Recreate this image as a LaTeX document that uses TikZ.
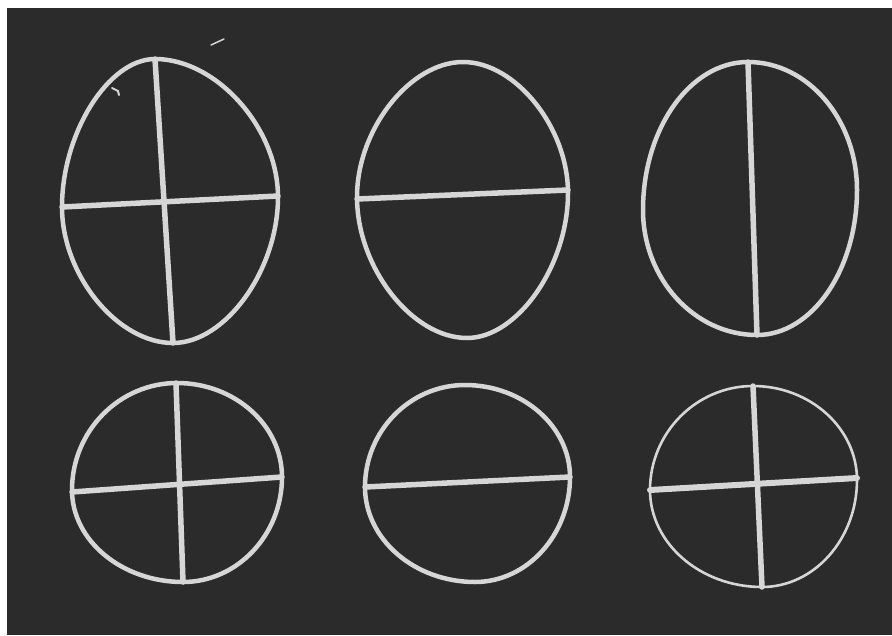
\documentclass[tikz,border=0pt]{standalone}
\usepackage{tikz}
\definecolor{board}{HTML}{2B2B2B}
\definecolor{chalkwhite}{HTML}{D6D6D6}
\tikzstyle{outline} = [draw=chalkwhite, line width=4.5pt, line join=round]
\tikzstyle{thinoutline} = [draw=chalkwhite, line width=2.6pt, line join=round]
\tikzstyle{axis} = [draw=chalkwhite, line width=5.5pt, line cap=round]
% oval through top, right, bottom and left points
\def\ovalk{0.55}
\newcommand{\chalkoval}[9]{%
  \draw[#1] (#2,#3) .. controls ({#2+\ovalk*(#4-#2)},#3) and (#4,{#5-\ovalk*(#5-#3)}) .. (#4,#5)
    .. controls (#4,{#5+\ovalk*(#7-#5)}) and ({#6+\ovalk*(#4-#6)},#7) .. (#6,#7)
    .. controls ({#6-\ovalk*(#6-#8)},#7) and (#8,{#9+\ovalk*(#7-#9)}) .. (#8,#9)
    .. controls (#8,{#9-\ovalk*(#9-#3)}) and ({#2-\ovalk*(#2-#8)},#3) .. cycle;}

\begin{document}
\begin{tikzpicture}[x=1pt, y=-1pt]
  \useasboundingbox (0,0) rectangle (892,635);
  \fill[white] (0,0) rectangle (892,635);
  \fill[board] (7,8) rectangle (892,635);
  % top row
  \def\ovalk{0.5}
  \chalkoval{outline}{155}{59}{278}{197}{173}{343}{62}{207}
  \draw[axis] (155,59) -- (173,343);
  \draw[axis] (62,207) -- (278,196);
  \chalkoval{outline}{463}{62}{568}{193}{467}{338}{357}{197}
  \draw[axis] (357,199) -- (568,190);
  \def\ovalk{0.55}
  \chalkoval{outline}{748}{62}{857}{190}{757}{335}{643}{210}
  \draw[axis] (748,62) -- (757,335);
  % bottom row
  \chalkoval{outline}{177}{383}{282}{477}{183}{582}{72}{490}
  \draw[axis] (176,383) -- (183,582);
  \draw[axis] (72,492) -- (282,477);
  \chalkoval{outline}{465}{385}{570}{477}{475}{582}{365}{487}
  \draw[axis] (365,487) -- (570,477);
  \chalkoval{thinoutline}{753}{386}{857}{480}{762}{587}{650}{490}
  \draw[axis] (753,386) -- (762,587);
  \draw[axis, line width=6pt] (650,490) -- (857,478);
  % chalk marks
  \draw[chalkwhite, line width=1.5pt, line cap=round] (211,45) -- (224,39);
  \draw[chalkwhite, line width=2pt, line cap=round] (112,88) -- (118,91) -- (119,95);
\end{tikzpicture}
\end{document}
